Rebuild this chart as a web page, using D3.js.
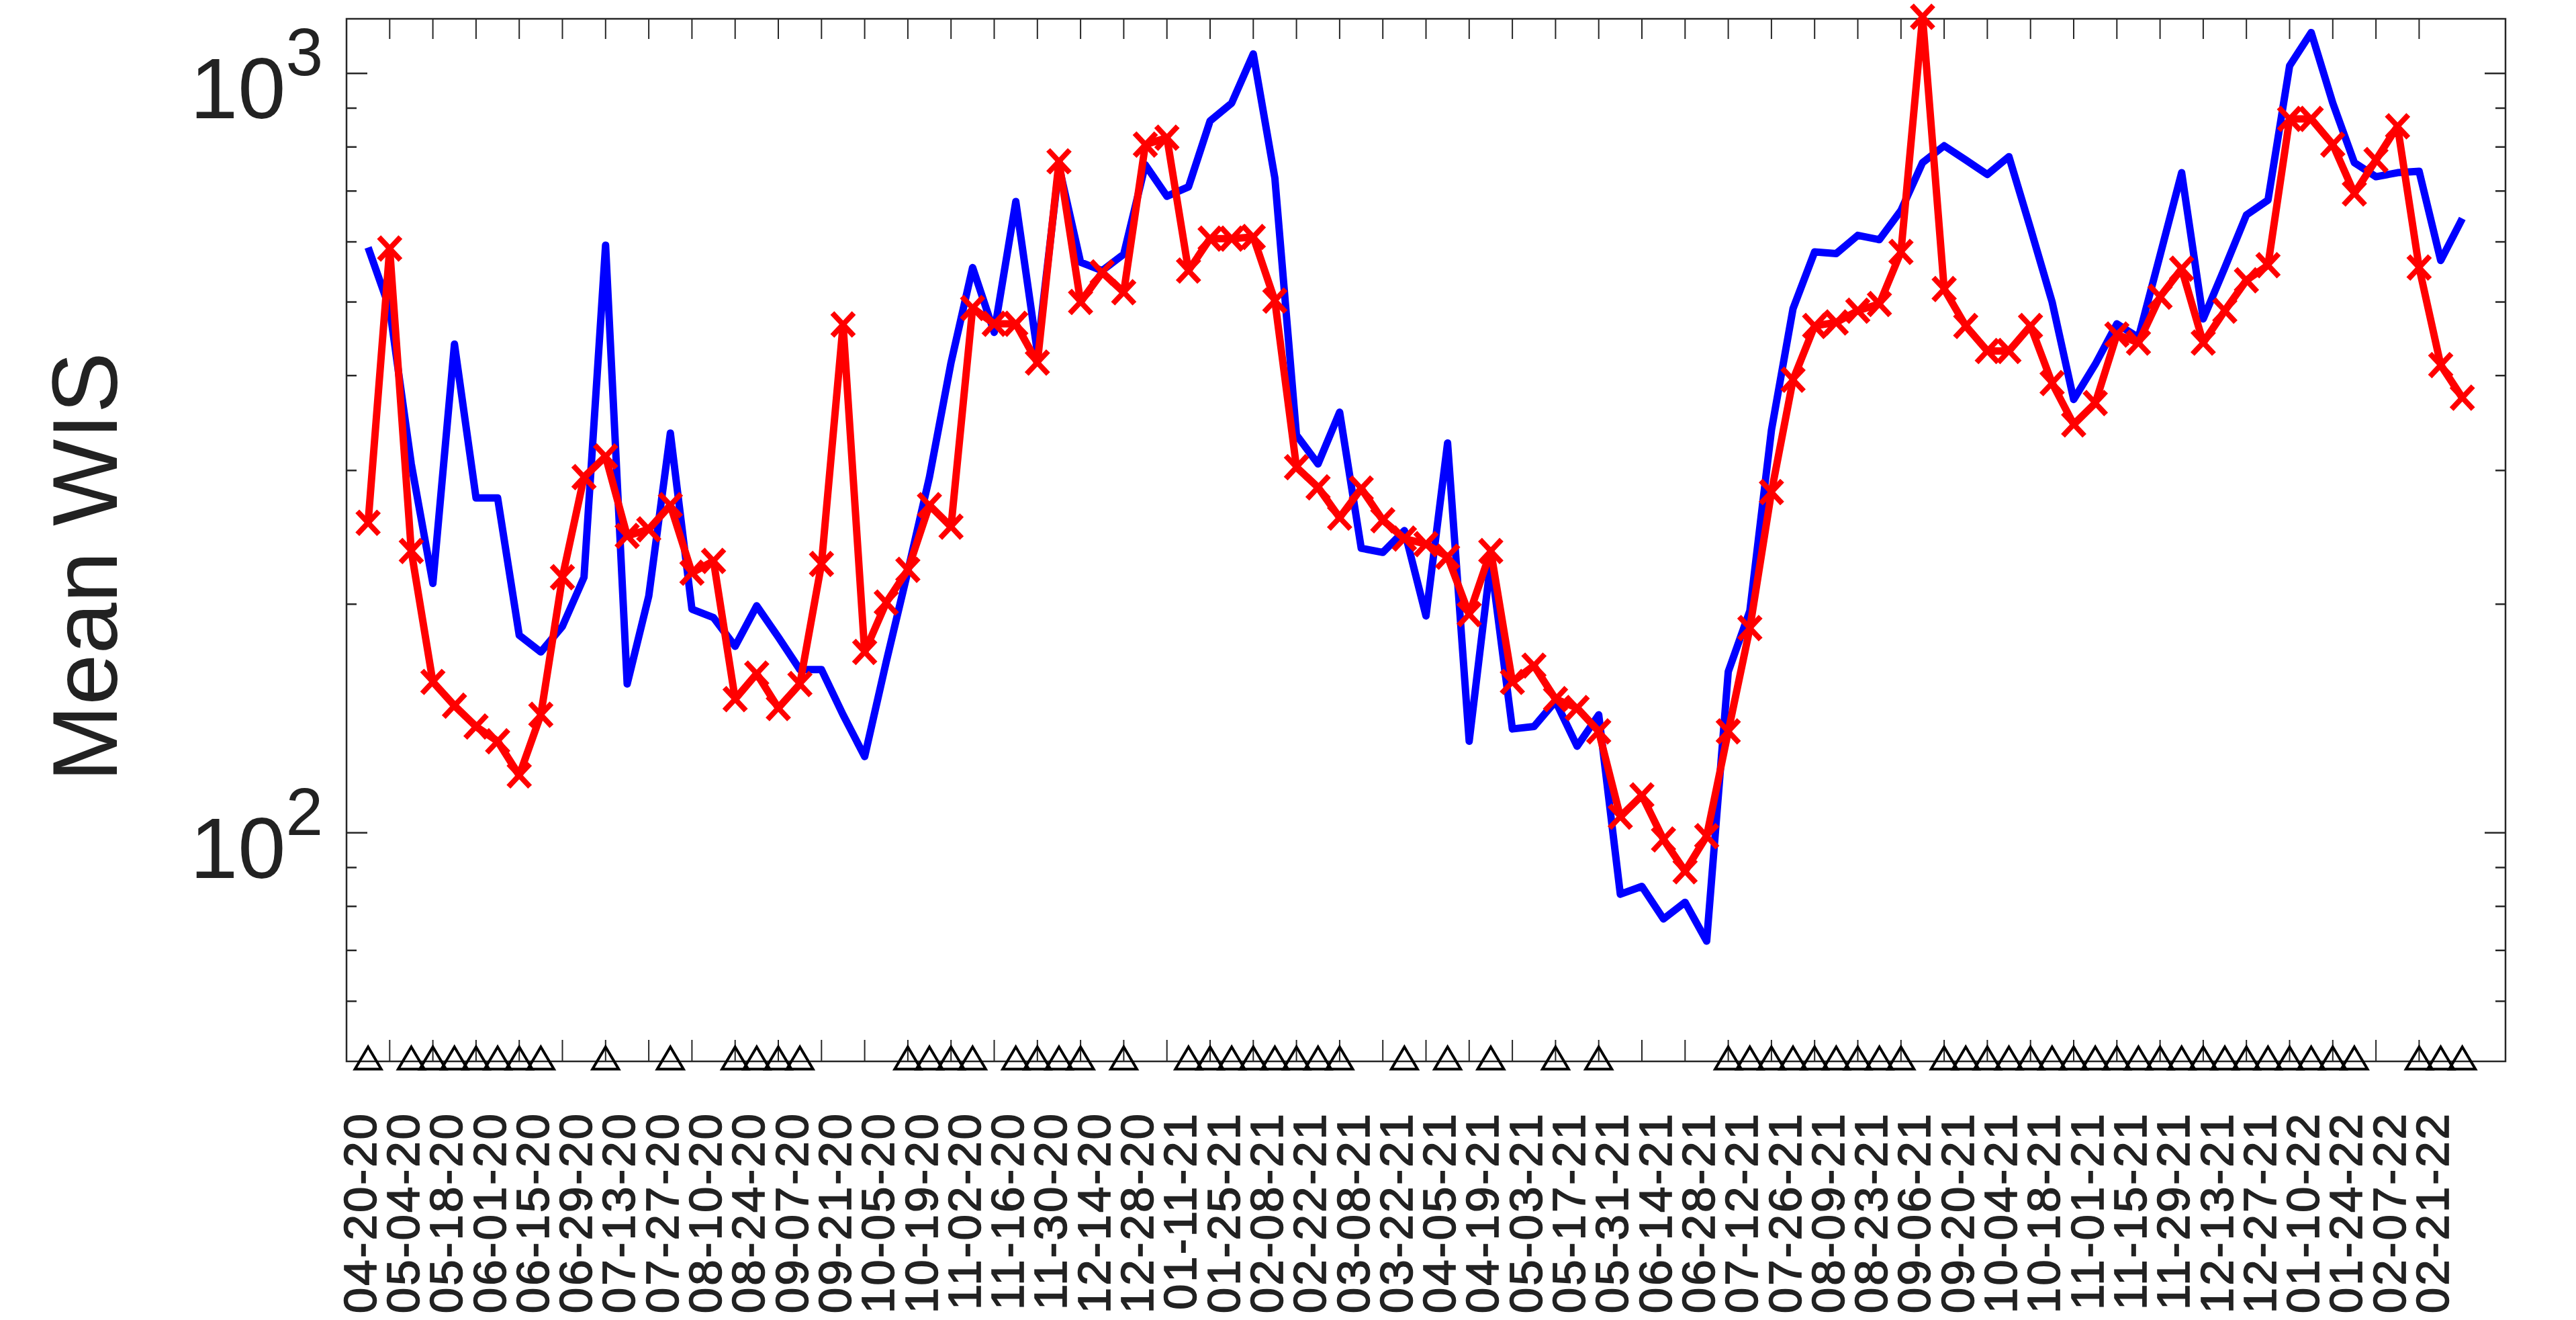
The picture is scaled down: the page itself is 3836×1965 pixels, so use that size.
<!DOCTYPE html>
<html>
<head>
<meta charset="utf-8">
<script src="https://cdnjs.cloudflare.com/ajax/libs/d3/7.8.5/d3.min.js"></script>
<style>
  body { margin: 0; background: #ffffff; }
  text { font-family: "Liberation Sans", Arial, Helvetica, sans-serif; fill: #222222; }
</style>
</head>
<body>
<script>
var w = 3836;
var h = 1965;

// weekly mean WIS, one value per week starting 04-20-20
var blueWis = [590, 490, 306, 213, 440, 276, 276, 182, 173, 187,
               217, 594, 157, 205, 336, 197, 192, 176, 199, 181,
               164, 164, 143, 126, 168, 221, 294, 416, 555, 456,
               678, 429, 754, 564, 550, 578, 758, 689, 709, 866,
               914, 1061, 728, 334, 306, 358, 237, 234, 250, 193,
               326, 132, 228, 137, 138, 149, 130, 143, 83, 85,
               77, 81, 72, 163, 196, 339, 490, 582, 579, 612,
               604, 660, 763, 803, 769, 736, 777, 625, 500, 372,
               414, 468, 449, 576, 740, 475, 555, 651, 681, 1023,
               1132, 914, 763, 731, 740, 743, 567, 644];

var redWis = [256, 588, 235, 158, 147, 138, 132, 119, 143, 217,
              294, 313, 246, 251, 270, 220, 228, 150, 162, 146,
              157, 226, 467, 173, 201, 222, 270, 253, 491, 468,
              468, 416, 766, 500, 547, 515, 806, 823, 550, 606,
              606, 609, 502, 303, 285, 260, 284, 258, 244, 240,
              231, 194, 235, 158, 166, 150, 146, 136, 105, 112,
              98, 89, 99, 136, 186, 281, 395, 465, 470, 487,
              497, 582, 1187, 520, 465, 431, 431, 465, 391, 345,
              368, 453, 442, 508, 553, 442, 487, 534, 559, 871,
              871, 806, 695, 769, 852, 555, 413, 374];

// weeks flagged with a triangle on the bottom axis
var flaggedWeeks = [0, 2, 3, 4, 5, 6, 7, 8, 11, 14, 17, 18, 19, 20,
                    25, 26, 27, 28, 30, 31, 32, 33, 35,
                    38, 39, 40, 41, 42, 43, 44, 45, 48, 50, 52, 55, 57,
                    63, 64, 65, 66, 67, 68, 69, 70, 71,
                    73, 74, 75, 76, 77, 78, 79, 80, 81, 82, 83, 84, 85,
                    86, 87, 88, 89, 90, 91, 92, 95, 96, 97];

// one label every two weeks
var dateLabels = ["04-20-20", "05-04-20", "05-18-20", "06-01-20", "06-15-20",
                  "06-29-20", "07-13-20", "07-27-20", "08-10-20", "08-24-20",
                  "09-07-20", "09-21-20", "10-05-20", "10-19-20", "11-02-20",
                  "11-16-20", "11-30-20", "12-14-20", "12-28-20", "01-11-21",
                  "01-25-21", "02-08-21", "02-22-21", "03-08-21", "03-22-21",
                  "04-05-21", "04-19-21", "05-03-21", "05-17-21", "05-31-21",
                  "06-14-21", "06-28-21", "07-12-21", "07-26-21", "08-09-21",
                  "08-23-21", "09-06-21", "09-20-21", "10-04-21", "10-18-21",
                  "11-01-21", "11-15-21", "11-29-21", "12-13-21", "12-27-21",
                  "01-10-22", "01-24-22", "02-07-22", "02-21-22"];

var yMajor = [100, 1000];
var yMinor = [60, 70, 80, 90, 200, 300, 400, 500, 600, 700, 800, 900];
var tickWeeks = d3.range(1, 96, 2);

var pLeft = 516, pRight = 3731, pTop = 28, pBottom = 1580;
var axisColor = "#262626";

var svg = d3.select("body")
            .append("svg")
              .attr("width", w)
              .attr("height", h)
              .style("display", "block")
              .style("background", "#ffffff");

var x = d3.scaleLinear().domain([-1, 99]).range([pLeft, pRight]);
var y = d3.scaleLog().domain([50, 1180]).range([pBottom, pTop]);

// frame
svg.append("rect")
    .attr("x", pLeft)
    .attr("y", pTop)
    .attr("width", pRight - pLeft)
    .attr("height", pBottom - pTop)
    .attr("fill", "none")
    .attr("stroke", axisColor)
    .attr("stroke-width", 2.5);

// y ticks, both sides, pointing in
function yTicks(vals, len) {
  var g = svg.append("g").attr("stroke", axisColor).attr("stroke-width", 2.5);
  g.selectAll("line.l")
    .data(vals)
    .enter()
    .append("line")
      .attr("class", "l")
      .attr("x1", pLeft).attr("x2", pLeft + len)
      .attr("y1", function(d) { return y(d); })
      .attr("y2", function(d) { return y(d); });
  g.selectAll("line.r")
    .data(vals)
    .enter()
    .append("line")
      .attr("class", "r")
      .attr("x1", pRight).attr("x2", pRight - len)
      .attr("y1", function(d) { return y(d); })
      .attr("y2", function(d) { return y(d); });
}
yTicks(yMajor, 31);
yTicks(yMinor, 15);

// x ticks, top and bottom
var xt = svg.append("g").attr("stroke", axisColor).attr("stroke-width", 2);
xt.selectAll("line.t")
  .data(tickWeeks)
  .enter()
  .append("line")
    .attr("class", "t")
    .attr("x1", function(d) { return x(d); })
    .attr("x2", function(d) { return x(d); })
    .attr("y1", pTop).attr("y2", pTop + 30);
xt.selectAll("line.b")
  .data(tickWeeks)
  .enter()
  .append("line")
    .attr("class", "b")
    .attr("x1", function(d) { return x(d); })
    .attr("x2", function(d) { return x(d); })
    .attr("y1", pBottom).attr("y2", pBottom - 32);

// y tick labels 10^2, 10^3
var yl = svg.selectAll("text.ylab")
  .data(yMajor)
  .enter()
  .append("text")
    .attr("class", "ylab")
    .attr("text-anchor", "end")
    .attr("x", 481)
    .attr("y", function(d) { return y(d) + 67; })
    .style("font-size", "128px");
yl.append("tspan").text("10");
yl.append("tspan")
    .attr("dy", -64)
    .style("font-size", "100px")
    .text(function(d) { return Math.round(Math.log10(d)); });

// y axis title
svg.append("text")
    .attr("transform", "translate(174,844) rotate(-90)")
    .attr("text-anchor", "middle")
    .style("font-size", "137px")
    .text("Mean WIS");

// x tick labels, rotated
svg.selectAll("text.xlab")
  .data(dateLabels)
  .enter()
  .append("text")
    .attr("class", "xlab")
    .attr("transform", function(d, i) {
      return "translate(" + (x(i * 2) - 12) + ",1655) rotate(-90)";
    })
    .attr("text-anchor", "end")
    .attr("dominant-baseline", "central")
    .style("font-size", "69px")
    .style("letter-spacing", "3px")
    .style("stroke", "#222222")
    .style("stroke-width", 1.6)
    .text(function(d) { return d; });

var line = d3.line()
  .x(function(d, i) { return x(i); })
  .y(function(d) { return y(d); });

svg.append("path")
    .datum(blueWis)
    .attr("d", line)
    .attr("fill", "none")
    .attr("stroke", "#0000ff")
    .attr("stroke-width", 11)
    .attr("stroke-linejoin", "round");

svg.append("path")
    .datum(redWis)
    .attr("d", line)
    .attr("fill", "none")
    .attr("stroke", "#ff0000")
    .attr("stroke-width", 11)
    .attr("stroke-linejoin", "round");

svg.selectAll("path.mk")
  .data(redWis)
  .enter()
  .append("path")
    .attr("class", "mk")
    .attr("transform", function(d, i) {
      return "translate(" + x(i) + "," + y(d) + ")";
    })
    .attr("d", "M-16,-17L16,17M-16,17L16,-17")
    .attr("stroke", "#ff0000")
    .attr("stroke-width", 8)
    .attr("fill", "none");

// triangles on the bottom axis
svg.selectAll("path.tri")
  .data(flaggedWeeks)
  .enter()
  .append("path")
    .attr("class", "tri")
    .attr("transform", function(d) {
      return "translate(" + x(d) + "," + (y(50) - 5) + ")";
    })
    .attr("d", "M0,-16.5L19.5,16.5L-19.5,16.5Z")
    .attr("fill", "none")
    .attr("stroke", "#000000")
    .attr("stroke-width", 4);
</script>
</body>
</html>
